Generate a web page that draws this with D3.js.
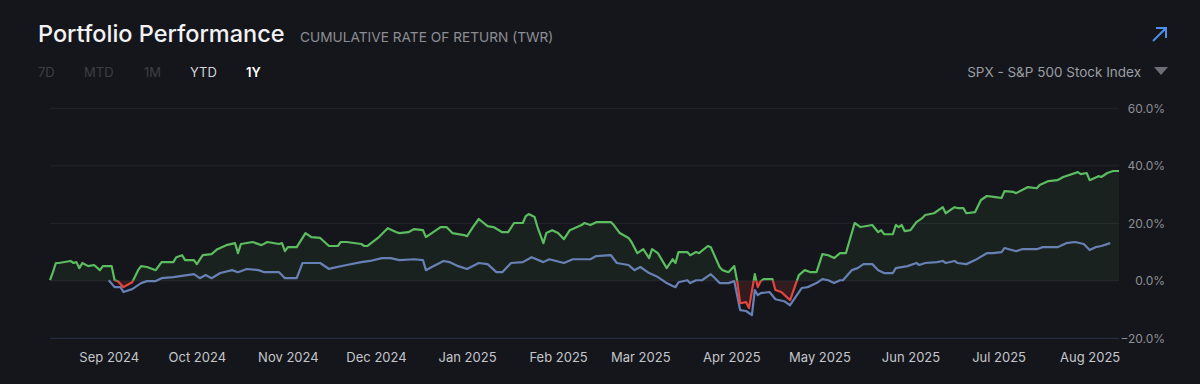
<!DOCTYPE html>
<html>
<head>
<meta charset="utf-8">
<script src="https://cdn.jsdelivr.net/npm/d3@7"></script>
<style>
  html, body { margin: 0; padding: 0; background: #15161b; }
  svg { display: block; font-family: Inter, 'Open Sans', sans-serif; }
</style>
</head>
<body>
<svg id="chart" width="1200" height="384"></svg>
<script>
// portfolio (TWR, %) and benchmark (SPX, %)
const portfolioDates = ['2024-08-12','2024-08-13','2024-08-14','2024-08-15','2024-08-19','2024-08-20','2024-08-21','2024-08-22','2024-08-23','2024-08-25','2024-08-27','2024-08-29','2024-08-30','2024-09-02','2024-09-03','2024-09-04','2024-09-06','2024-09-09','2024-09-11','2024-09-12','2024-09-14','2024-09-17','2024-09-19','2024-09-23','2024-09-24','2024-09-26','2024-09-27','2024-09-30','2024-10-01','2024-10-03','2024-10-06','2024-10-08','2024-10-11','2024-10-14','2024-10-15','2024-10-16','2024-10-20','2024-10-23','2024-10-25','2024-10-29','2024-10-30','2024-10-31','2024-11-01','2024-11-04','2024-11-07','2024-11-09','2024-11-12','2024-11-15','2024-11-18','2024-11-19','2024-11-21','2024-11-26','2024-11-27','2024-11-28','2024-12-02','2024-12-05','2024-12-08','2024-12-09','2024-12-12','2024-12-14','2024-12-17','2024-12-18','2024-12-23','2024-12-25','2024-12-27','2024-12-31','2025-01-01','2025-01-03','2025-01-05','2025-01-08','2025-01-10','2025-01-13','2025-01-15','2025-01-17','2025-01-20','2025-01-21','2025-01-22','2025-01-24','2025-01-25','2025-01-27','2025-01-28','2025-01-30','2025-02-01','2025-02-03','2025-02-05','2025-02-09','2025-02-10','2025-02-12','2025-02-14','2025-02-19','2025-02-20','2025-02-22','2025-02-25','2025-02-26','2025-02-28','2025-03-02','2025-03-04','2025-03-05','2025-03-07','2025-03-10','2025-03-12','2025-03-13','2025-03-14','2025-03-17','2025-03-18','2025-03-20','2025-03-21','2025-03-24','2025-03-25','2025-03-28','2025-03-29','2025-03-31','2025-04-02','2025-04-03','2025-04-04','2025-04-06','2025-04-07','2025-04-09','2025-04-10','2025-04-11','2025-04-12','2025-04-15','2025-04-16','2025-04-18','2025-04-21','2025-04-24','2025-04-26','2025-04-28','2025-04-30','2025-05-02','2025-05-04','2025-05-06','2025-05-08','2025-05-10','2025-05-13','2025-05-15','2025-05-19','2025-05-21','2025-05-22','2025-05-23','2025-05-26','2025-05-27','2025-05-28','2025-05-29','2025-05-30','2025-06-01','2025-06-03','2025-06-05','2025-06-06','2025-06-09','2025-06-12','2025-06-13','2025-06-16','2025-06-17','2025-06-19','2025-06-20','2025-06-23','2025-06-25','2025-06-27','2025-06-30','2025-07-02','2025-07-03','2025-07-06','2025-07-07','2025-07-11','2025-07-14','2025-07-15','2025-07-18','2025-07-21','2025-07-23','2025-07-28','2025-07-29','2025-07-31','2025-08-01','2025-08-04','2025-08-05','2025-08-07','2025-08-09','2025-08-11'];
const portfolioReturns = [0.2,3.0,6.2,6.2,6.9,6.2,6.5,4.4,6.2,5.1,5.5,3.7,5.1,5.1,0.2,-0.1,-2.2,-0.5,3.7,5.1,4.8,3.7,6.5,6.5,8.2,8.9,7.2,7.2,5.8,8.9,9.3,11.0,12.4,13.1,9.6,12.8,13.5,12.4,13.5,12.8,13.1,10.3,11.7,11.7,16.6,15.2,14.9,12.1,12.1,13.5,13.5,12.8,12.1,12.1,15.2,18.3,16.9,16.6,16.9,18.0,17.6,15.2,18.7,18.7,16.6,15.9,15.5,18.7,21.5,19.0,18.7,16.9,16.9,20.1,20.1,22.5,23.2,22.2,18.7,13.1,16.6,17.6,16.6,14.5,17.6,19.4,20.1,19.4,20.4,20.4,19.4,16.6,14.9,13.5,9.6,11.0,7.9,11.0,9.6,4.4,7.5,6.2,10.0,10.0,8.9,10.0,9.6,12.1,11.7,4.8,3.7,3.0,5.1,-0.1,-7.8,-7.4,-9.5,2.3,-2.2,-0.1,0.6,0.6,-3.2,-3.9,-6.7,2.0,3.7,3.0,3.0,9.3,8.9,7.9,9.6,9.6,20.1,18.7,19.4,16.9,17.6,16.2,16.2,19.4,18.7,19.4,17.3,17.6,20.4,21.8,22.9,23.5,25.6,23.5,25.6,25.3,25.3,23.5,23.9,28.1,29.5,29.1,28.8,31.2,30.9,30.5,32.6,32.2,33.3,34.7,35.0,36.1,37.8,37.1,37.5,35.0,36.4,36.1,37.5,38.2,38.2];

const benchmarkDates = ['2024-09-01','2024-09-03','2024-09-05','2024-09-06','2024-09-09','2024-09-12','2024-09-14','2024-09-17','2024-09-19','2024-09-23','2024-09-30','2024-10-02','2024-10-04','2024-10-06','2024-10-09','2024-10-13','2024-10-15','2024-10-18','2024-10-22','2024-10-24','2024-10-29','2024-10-31','2024-11-04','2024-11-06','2024-11-12','2024-11-15','2024-11-16','2024-11-21','2024-11-26','2024-11-29','2024-12-03','2024-12-06','2024-12-09','2024-12-14','2024-12-17','2024-12-18','2024-12-20','2024-12-24','2024-12-26','2024-12-29','2025-01-01','2025-01-05','2025-01-08','2025-01-11','2025-01-13','2025-01-16','2025-01-20','2025-01-23','2025-01-27','2025-01-29','2025-02-03','2025-02-06','2025-02-12','2025-02-14','2025-02-19','2025-02-21','2025-02-25','2025-02-27','2025-03-01','2025-03-04','2025-03-07','2025-03-10','2025-03-12','2025-03-13','2025-03-14','2025-03-17','2025-03-18','2025-03-20','2025-03-22','2025-03-25','2025-03-26','2025-03-28','2025-03-31','2025-04-02','2025-04-04','2025-04-06','2025-04-08','2025-04-09','2025-04-10','2025-04-11','2025-04-14','2025-04-16','2025-04-19','2025-04-21','2025-04-25','2025-04-27','2025-04-30','2025-05-02','2025-05-04','2025-05-06','2025-05-08','2025-05-09','2025-05-12','2025-05-14','2025-05-16','2025-05-19','2025-05-21','2025-05-23','2025-05-26','2025-05-27','2025-05-31','2025-06-03','2025-06-04','2025-06-06','2025-06-10','2025-06-12','2025-06-13','2025-06-16','2025-06-17','2025-06-20','2025-06-23','2025-06-27','2025-06-29','2025-07-02','2025-07-03','2025-07-07','2025-07-09','2025-07-11','2025-07-14','2025-07-16','2025-07-21','2025-07-22','2025-07-24','2025-07-27','2025-07-30','2025-08-01','2025-08-03','2025-08-05','2025-08-08'];
const benchmarkReturns = [0.2,-2.2,-2.2,-3.9,-2.9,-0.8,-0.1,-0.1,0.9,1.3,2.3,0.9,2.0,0.9,2.7,3.7,3.0,4.1,3.7,3.0,3.0,0.9,0.9,6.2,6.2,4.1,4.4,5.5,6.5,6.9,7.9,7.9,7.2,7.5,7.2,3.7,4.8,6.9,6.5,5.1,4.1,6.2,5.8,3.0,3.0,6.2,6.5,8.2,6.5,7.5,6.2,7.5,7.5,8.6,8.9,6.2,5.5,3.7,4.8,2.7,1.3,-0.8,-1.8,-2.2,-0.5,0.2,-0.8,0.2,0.2,2.3,1.3,-0.8,-0.8,-0.1,-10.2,-10.5,-11.9,-3.2,-5.0,-4.3,-3.9,-6.4,-7.1,-8.5,-2.5,-2.2,-0.8,0.6,0.2,-0.8,0.2,0.2,3.7,4.4,5.8,5.8,3.7,2.7,2.7,4.4,5.1,6.2,5.5,6.2,6.5,6.9,6.2,6.9,6.2,5.8,7.2,9.6,9.6,10.0,11.4,10.3,11.0,11.0,11.0,11.7,11.7,12.1,13.1,13.5,12.8,10.7,11.7,12.1,13.1];

const yTicks = [-20, 0, 20, 40, 60];
const rangeButtons = ['7D', 'MTD', '1M', 'YTD', '1Y'];
const benchmarkName = 'SPX - S&P 500 Stock Index';

const parseDate = d3.timeParse('%Y-%m-%d');
const portfolio = portfolioDates.map((d, i) => ({date: parseDate(d), value: portfolioReturns[i]}));
const benchmark = benchmarkDates.map((d, i) => ({date: parseDate(d), value: benchmarkReturns[i]}));

const width = 1200, height = 384;
const plot = {left: 50, right: 1119, top: 108.3, bottom: 338.3};
const colors = {up: '#5bbd60', down: '#e5453f', bench: '#6881b5',
    upFill: 'rgba(91,189,96,0.075)', downFill: 'rgba(229,69,63,0.14)'};

const svg = d3.select('#chart');

// header
svg.append('text').attr('x', 38).attr('y', 42)
    .attr('fill', '#f2f2f4').style('font-size', '23.5px').style('font-weight', 500)
    .text('Portfolio Performance');
svg.append('text').attr('x', 300).attr('y', 42)
    .attr('fill', '#8b8e95').style('font-size', '13.7px')
    .text('CUMULATIVE RATE OF RETURN (TWR)');

const btnX = [38, 84, 144, 190, 246];
const btnColor = ['#3b3e45', '#3b3e45', '#3b3e45', '#d2d3d6', '#ffffff'];
svg.append('g').selectAll('text').data(rangeButtons).join('text')
    .attr('x', (d, i) => btnX[i]).attr('y', 77)
    .attr('fill', (d, i) => btnColor[i])
    .style('font-size', '13px').style('font-weight', (d, i) => i === 4 ? 600 : 400)
    .text(d => d);

svg.append('text').attr('x', 1141).attr('y', 77).attr('text-anchor', 'end')
    .attr('fill', '#9b9ea4').style('font-size', '13.5px')
    .text(benchmarkName);
svg.append('path').attr('d', 'M1154,67 L1168,67 L1161,75 Z').attr('fill', '#6c6f76');

// expand arrow icon
svg.append('path').attr('d', 'M1153,41 L1166,28 M1156,28 L1166,28 L1166,38')
    .attr('stroke', '#4c8ee8').attr('stroke-width', 2).attr('fill', 'none');

// scales
const x = d3.scaleTime()
    .domain([new Date(2024, 7, 12), new Date(2025, 7, 11)])
    .range([plot.left, plot.right]);
const y = d3.scaleLinear().domain([-20, 60]).range([plot.bottom, plot.top]);

// grid
svg.append('g').selectAll('line').data(yTicks).join('line')
    .attr('x1', plot.left).attr('x2', plot.right)
    .attr('y1', d => y(d)).attr('y2', d => y(d))
    .attr('stroke', d => d === -20 ? '#2b3246' : '#23262d')
    .attr('stroke-width', 1);

svg.append('g').selectAll('text').data(yTicks).join('text')
    .attr('x', 1165).attr('y', d => y(d)).attr('dy', '0.35em')
    .attr('text-anchor', 'end').attr('fill', '#8b8e95').style('font-size', '12px')
    .text(d => d3.format('.1f')(d) + '%');

// x axis
const xAxis = d3.axisBottom(x)
    .ticks(d3.timeMonth.every(1))
    .tickFormat(d3.timeFormat('%b %Y'))
    .tickSize(0).tickPadding(14);
const gx = svg.append('g').attr('transform', `translate(0,${plot.bottom})`).call(xAxis);
gx.select('.domain').remove();
gx.selectAll('text').attr('fill', '#c4c6cb').style('font-size', '13px')
    .style('font-family', 'Inter, sans-serif');

// clip regions above / below zero
const defs = svg.append('defs');
defs.append('clipPath').attr('id', 'above').append('rect')
    .attr('x', 0).attr('y', 0).attr('width', width).attr('height', y(0));
defs.append('clipPath').attr('id', 'below').append('rect')
    .attr('x', 0).attr('y', y(0)).attr('width', width).attr('height', height - y(0));

const area = d3.area().x(d => x(d.date)).y0(y(0)).y1(d => y(d.value));
const line = d3.line().x(d => x(d.date)).y(d => y(d.value));

svg.append('path').datum(portfolio).attr('d', area)
    .attr('fill', colors.upFill).attr('clip-path', 'url(#above)');
svg.append('path').datum(portfolio).attr('d', area)
    .attr('fill', colors.downFill).attr('clip-path', 'url(#below)');

svg.append('path').datum(benchmark).attr('d', line)
    .attr('fill', 'none').attr('stroke', colors.bench).attr('stroke-width', 2.2)
    .attr('stroke-linejoin', 'round');

svg.append('path').datum(portfolio).attr('d', line)
    .attr('fill', 'none').attr('stroke', colors.up).attr('stroke-width', 2.2)
    .attr('stroke-linejoin', 'round').attr('clip-path', 'url(#above)');
svg.append('path').datum(portfolio).attr('d', line)
    .attr('fill', 'none').attr('stroke', colors.down).attr('stroke-width', 2.2)
    .attr('stroke-linejoin', 'round').attr('clip-path', 'url(#below)');
</script>
</body>
</html>
